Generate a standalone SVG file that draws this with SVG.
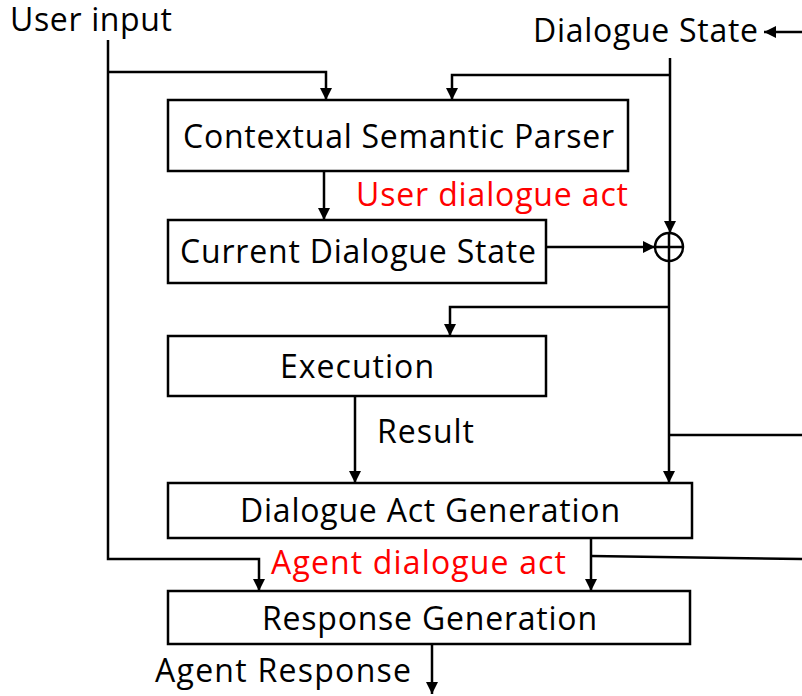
<svg xmlns="http://www.w3.org/2000/svg" width="802" height="696" viewBox="0 0 802 696">
<defs>
<marker id="ah" viewBox="0 0 12 12" refX="12" refY="6" markerWidth="12" markerHeight="12" markerUnits="userSpaceOnUse" orient="auto">
<path d="M0,0 L12,6 L0,12 Z" fill="#000"/>
</marker>
</defs>
<style>
.box{fill:#fff;stroke:#000;stroke-width:2.5}
.t{font-family:"Open Sans","Noto Sans",sans-serif;font-size:32px;fill:#000}
.r{fill:#ff0000}
.c{fill:none;stroke:#000;stroke-width:2.5}
</style>
<rect width="802" height="696" fill="#fff"/>
<g id="labels">
<text class="t" x="10" y="31" textLength="162">User input</text>
<text class="t" x="533" y="42" textLength="225">Dialogue State</text>
<text class="t r" x="356" y="206" textLength="272">User dialogue act</text>
<text class="t" x="377" y="443" textLength="97">Result</text>
<text class="t r" x="271" y="574" textLength="295">Agent dialogue act</text>
<text class="t" x="155" y="682" textLength="256">Agent Response</text>
</g>
<g id="parser">
<rect class="box" x="168" y="100" width="460" height="71"/>
<text class="t" x="183" y="148" textLength="431">Contextual Semantic Parser</text>
</g>
<g id="current-state">
<rect class="box" x="168" y="220" width="378" height="63"/>
<text class="t" x="180" y="263" textLength="356">Current Dialogue State</text>
</g>
<g id="execution">
<rect class="box" x="168" y="336" width="378" height="60"/>
<text class="t" x="280" y="378" textLength="154">Execution</text>
</g>
<g id="act-generation">
<rect class="box" x="168" y="483" width="524" height="55"/>
<text class="t" x="240" y="522" textLength="380">Dialogue Act Generation</text>
</g>
<g id="response-generation">
<rect class="box" x="168" y="591" width="522" height="53"/>
<text class="t" x="262" y="630" textLength="335">Response Generation</text>
</g>
<g id="combine">
<circle cx="669" cy="247" r="14" fill="#fff" stroke="#000" stroke-width="2.5"/>
<path class="c" d="M655,247 H683 M669,233 V261"/>
</g>
<g id="connectors">
<path class="c" d="M108,40 V559 H259 V591" marker-end="url(#ah)"/>
<path class="c" d="M108,72 H326 V100" marker-end="url(#ah)"/>
<path class="c" d="M802,32 H764" marker-end="url(#ah)"/>
<path class="c" d="M670,58 V233" marker-end="url(#ah)"/>
<path class="c" d="M670,75 H452 V100" marker-end="url(#ah)"/>
<path class="c" d="M324,171 V220" marker-end="url(#ah)"/>
<path class="c" d="M546,247 H655" marker-end="url(#ah)"/>
<path class="c" d="M669,261 V483" marker-end="url(#ah)"/>
<path class="c" d="M669,307 H450 V336" marker-end="url(#ah)"/>
<path class="c" d="M669,435 H802"/>
<path class="c" d="M355,396 V483" marker-end="url(#ah)"/>
<path class="c" d="M591,538 V591" marker-end="url(#ah)"/>
<path class="c" d="M591,556 L802,559"/>
<path class="c" d="M432,644 V694" marker-end="url(#ah)"/>
</g>
</svg>
